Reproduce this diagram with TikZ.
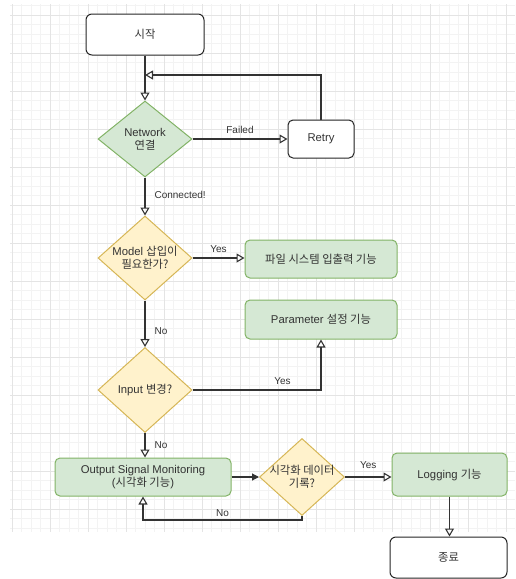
\documentclass[tikz,border=0pt]{standalone}
\usepackage{fontspec}
\setmainfont{Liberation Sans}
\newfontfamily\kr{Noto Sans CJK KR}
\usetikzlibrary{shapes.geometric,arrows.meta}
\definecolor{gfill}{HTML}{D5E8D4}
\definecolor{gline}{HTML}{82B366}
\definecolor{yfill}{HTML}{FFF2CC}
\definecolor{yline}{HTML}{D6B656}
\definecolor{ink}{HTML}{333333}
\definecolor{gridminor}{HTML}{F3F3F3}
\definecolor{gridmajor}{HTML}{E4E4E4}
\tikzset{
  base/.style={font=\fontsize{11.3}{13}\selectfont, text=ink, align=center, inner sep=0pt},
  whitebox/.style={base, draw=black!85, fill=white, rounded corners=6pt, line width=1pt},
  greenbox/.style={base, draw=gline, fill=gfill, rounded corners=5pt, line width=1pt},
  decision/.style={diamond, inner sep=0pt, draw=yline, fill=yfill, line width=1pt},
  gdecision/.style={diamond, inner sep=0pt, draw=gline, fill=gfill, line width=1pt},
  dtext/.style={label={[base]center:#1}},
  conn/.style={draw=ink, line width=1.1pt, -{Triangle[open, length=8pt, width=9pt]}},
  connfill/.style={draw=ink, line width=1.1pt, -{Triangle[length=7pt, width=7pt]}},
  elabel/.style={font=\fontsize{10}{12}\selectfont, text=ink, inner sep=0pt},
}
\begin{document}
\begin{tikzpicture}[x=1pt, y=-1pt]
\useasboundingbox (0,0) rectangle (515,579);
% grid
\begin{scope}
\clip (10,4) rectangle (515,532);
\foreach \i in {-1,...,55} {
  \draw[gridminor, line width=0.5pt] ({12+9.5*\i},4) -- ({12+9.5*\i},532);
  \draw[gridminor, line width=0.5pt] (10,{15+9.5*\i}) -- (515,{15+9.5*\i});
}
\foreach \i in {-1,...,14} {
  \draw[gridmajor, line width=0.6pt] ({12+38*\i},4) -- ({12+38*\i},532);
  \draw[gridmajor, line width=0.6pt] (10,{15+38*\i}) -- (515,{15+38*\i});
}
\end{scope}

% nodes
\node[whitebox, minimum width=118pt, minimum height=41pt] (start) at (145,34.5) {\kr 시작};
\node[gdecision, minimum width=94pt, minimum height=76pt, dtext={Network\\{\kr 연결}}] (net) at (145,139) {};
\node[whitebox, rounded corners=5pt, minimum width=66pt, minimum height=38pt] (retry) at (321,139) {Retry};
\node[decision, minimum width=94pt, minimum height=84pt, dtext={Model {\kr 삽입이}\\{\kr 필요한가?}}] (model) at (145,258) {};
\node[greenbox, minimum width=152pt, minimum height=38pt] (file) at (321,259) {\kr 파일 시스템 입출력 기능};
\node[greenbox, minimum width=152pt, minimum height=39pt] (param) at (321,319.5) {Parameter {\kr 설정 기능}};
\node[decision, minimum width=94pt, minimum height=85pt, dtext={Input {\kr 변경?}}] (input) at (145,390) {};
\node[greenbox, minimum width=176pt, minimum height=38pt] (output) at (143,477) {Output Signal Monitoring\\({\kr 시각화 기능})};
\node[decision, minimum width=85pt, minimum height=77pt, dtext={{\kr 시각화 데이터}\\{\kr 기록?}}] (vis) at (302,477) {};
\node[greenbox, minimum width=115pt, minimum height=43pt] (logging) at (449.5,474.5) {Logging {\kr 기능}};
\node[whitebox, minimum width=117pt, minimum height=41pt] (end) at (448.5,557.5) {\kr 종료};

\coordinate (merge) at (145,75);

% connectors
\draw[conn] (start.south) -- (net.north);
\draw[conn] (retry.north) -- (retry.north |- merge) -- (merge);
\draw[conn] (net.east) -- (retry.west) node[elabel, midway, above=5pt] {Failed};
\draw[conn] (net.south) -- (model.north) node[elabel, pos=0.45, right=9pt] {Connected!};
\draw[conn] (model.east) -- (model.east -| file.west) node[elabel, midway, above=5pt] {Yes};
\draw[conn] (model.south) -- (input.north) node[elabel, pos=0.65, right=9pt] {No};
\draw[conn] (input.east) -- (input.east -| param.south) node[elabel, pos=0.7, above=5pt] {Yes} -- (param.south);
\draw[conn] (input.south) -- (input.south |- output.north) node[elabel, midway, right=9pt] {No};
\draw[connfill] (output.east) -- (vis.west);
\draw[conn] (vis.east) -- (vis.east -| logging.west) node[elabel, midway, above=8pt] {Yes};
\draw[conn] (vis.south) -- ++(0,4) -- ([yshift=-4pt]vis.south -| output.south) node[elabel, pos=0.5, above=3pt] {No} -- (output.south);
\draw[conn] (logging.south) -- (logging.south |- end.north);
\end{tikzpicture}
\end{document}
